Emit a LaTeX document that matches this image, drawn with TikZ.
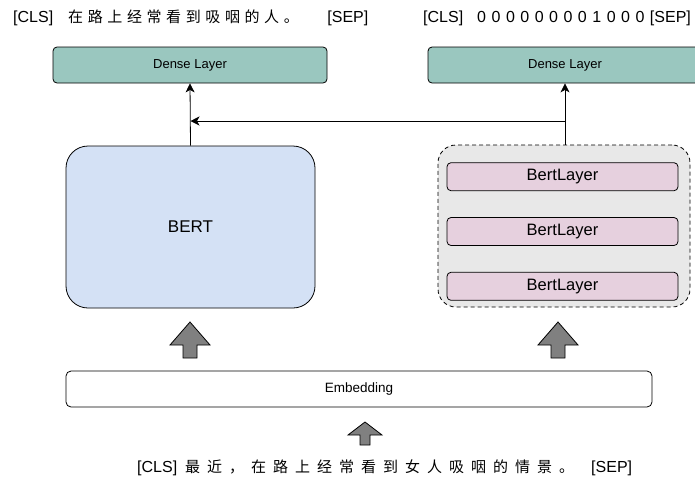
\documentclass[tikz,border=0pt]{standalone}
\usepackage{fontspec}
\setmainfont{Liberation Sans}
\newfontfamily\cjkfont{Noto Sans CJK SC}
\usetikzlibrary{arrows.meta,positioning}
\definecolor{densegreen}{HTML}{9AC7BF}
\definecolor{bertblue}{HTML}{D4E1F5}
\definecolor{encgray}{HTML}{E8E8E8}
\definecolor{layerpink}{HTML}{E6D0DE}
\definecolor{arrowgray}{HTML}{808080}
\tikzstyle{dense} = [rectangle, rounded corners=4pt, minimum width=274pt, minimum height=36pt, text centered, draw=black, line width=0.8pt, fill=densegreen, font=\fontsize{13}{15}\selectfont]
\tikzstyle{bertbox} = [rectangle, rounded corners=22pt, minimum width=249pt, minimum height=162pt, text centered, draw=black, line width=0.8pt, fill=bertblue, font=\fontsize{17}{20}\selectfont]
\tikzstyle{encoder} = [rectangle, rounded corners=18pt, minimum width=252pt, minimum height=162pt, draw=black, line width=0.8pt, dash pattern=on 4pt off 3pt, fill=encgray]
\tikzstyle{layer} = [rectangle, rounded corners=4pt, minimum width=231pt, minimum height=28pt, text centered, draw=black, line width=0.8pt, fill=layerpink, font=\fontsize{16.5}{19}\selectfont]
\tikzstyle{embed} = [rectangle, rounded corners=5pt, minimum width=586pt, minimum height=36pt, text centered, draw=black, line width=0.8pt, fill=white, font=\fontsize{13.5}{16}\selectfont]
\tikzstyle{sentence} = [anchor=west, inner sep=0pt, font=\fontsize{16}{19}\selectfont]
\tikzstyle{arrow} = [line width=0.8pt, ->, >={Stealth[length=9pt, width=9pt, inset=2.5pt]}]
\tikzstyle{blockarrow} = [draw=black, line width=0.8pt, fill=arrowgray]
\tikzset{pics/uparrow/.style args={#1/#2/#3/#4}{code={
  \draw[blockarrow] (0,0) -- (#1,#2) -- (#3,#2) -- (#3,#4) -- (-#3,#4) -- (-#3,#2) -- (-#1,#2) -- cycle;}}}
\newcommand{\spreadchars}[2]{\foreach \ch in {#2}{\ch\hspace{#1}}}
\newcommand{\zhtext}{\cjkfont\fontsize{15}{19}\selectfont}

\begin{document}
\begin{tikzpicture}[x=1pt, y=-1pt]
\clip (0,0) rectangle (695,480);
% input and output sentences
\node (tokL) [sentence] at (13,18) {[CLS]\hspace{15pt}{\zhtext\spreadchars{4.6pt}{在,路,上,经,常,看,到,吸,咽,的,人,。}}\hspace{24pt}[SEP]};
\node (tokR) [sentence] at (423,18) {[CLS]\hspace{14pt}\spreadchars{5.5pt}{0,0,0,0,0,0,0,0,1,0,0,0}[SEP]};
\node (tokIn) [sentence] at (137,468) {[CLS]\hspace{8pt}{\zhtext\spreadchars{7pt}{最,近,，,在,路,上,经,常,看,到,女,人,吸,咽,的,情,景,。}}\hspace{10pt}[SEP]};

% boxes
\node (denseL) [dense] at (190,65) {Dense Layer};
\node (denseR) [dense] at (565,65) {Dense Layer};
\node (bert) [bertbox] at (190.5,227) {BERT};
\node (enc) [encoder] at (564,226) {};
\node (layer2) [layer] at (562.5,231.5) {BertLayer};
\node (layer1) [layer, above=26pt of layer2] {BertLayer};
\node (layer3) [layer, below=26pt of layer2] {BertLayer};
\node (emb) [embed] at (359,389) {Embedding};

% connectors
\coordinate (split) at (565,121);
\draw [arrow] (bert.north) -- (denseL.south);
\draw [arrow] (denseR.south |- enc.north) -- (denseR.south);
\draw [arrow] (split) -- (split -| bert.north);

% block arrows
\pic at (190,322) {uparrow=20/23/7/36};
\pic at (558,322) {uparrow=20/23/7/36};
\pic at (365,422) {uparrow=17/13/5/23};
\end{tikzpicture}
\end{document}
